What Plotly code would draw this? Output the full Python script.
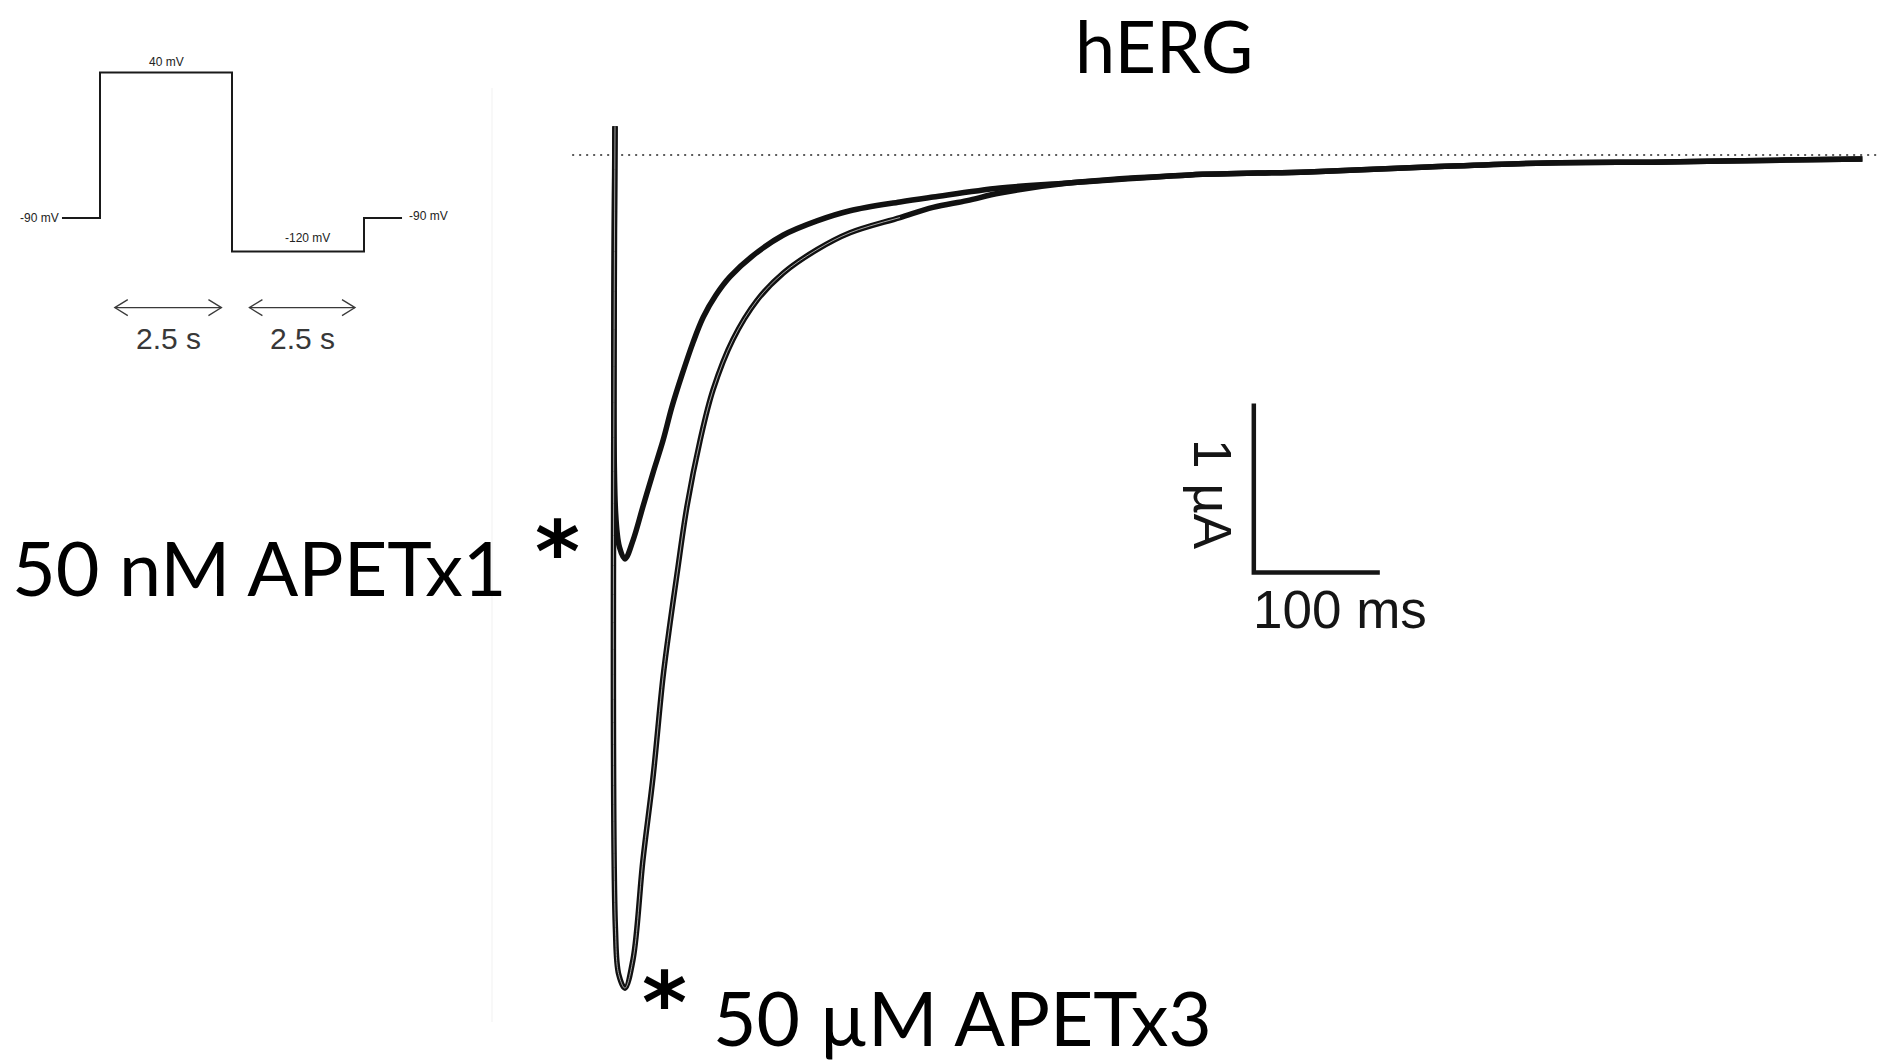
import plotly.graph_objects as go

W, H = 1886, 1063

# ---------------- hERG tail currents at -120 mV ----------------
# time after the step (ms) and current (µA)
TIME_APETX1_MS = [0, 0.5, 3.5, 7.9, 14.3, 22.2, 30.2, 38.1, 45.2, 53.2, 61.9, 70.0,
                  80.0, 91.3, 109.5, 133.3, 160.3, 186.5, 226.2, 252.4, 305.6, 360,
                  456, 550, 645, 740, 834, 929, 990]
CURRENT_APETX1_UA = [0.17, -2.12, -2.32, -2.39, -2.28, -2.08, -1.88, -1.69, -1.49,
                     -1.30, -1.11, -0.96, -0.83, -0.72, -0.595, -0.475, -0.39, -0.33,
                     -0.278, -0.249, -0.195, -0.166, -0.118, -0.10, -0.071, -0.047,
                     -0.041, -0.030, -0.024]

TIME_APETX3_MS = [0, 0.3, 3.0, 7.9, 14.3, 22.2, 30.2, 38.1, 43.7, 49.2, 57.1, 67.5,
                  77.8, 93.7, 112.7, 133.3, 160.3, 186.5, 226.2, 252.4, 279.4, 305.6,
                  360, 456, 550, 645, 740, 834, 929, 990]
CURRENT_APETX3_UA = [0.17, -4.57, -4.85, -4.93, -4.76, -4.17, -3.68, -3.09, -2.77,
                     -2.48, -2.08, -1.69, -1.39, -1.09, -0.86, -0.70, -0.56, -0.46,
                     -0.37, -0.31, -0.27, -0.225, -0.166, -0.118, -0.10, -0.071,
                     -0.047, -0.041, -0.030, -0.024]

BASELINE_T_MS = [-34, 1002]
BASELINE_UA = [0, 0]

# scale bar: 100 ms x 1 µA, corner at (SCALE_T0_MS, SCALE_I0_UA)
SCALE_T_MS = 100
SCALE_I_UA = 1
SCALE_T0_MS = 507
SCALE_I0_UA = -2.47

# ---------------- voltage protocol ----------------
PROTOCOL_T_S = [-0.72, 0, 0, 2.5, 2.5, 5.0, 5.0, 5.72]
PROTOCOL_MV = [-90, -90, 40, 40, -120, -120, -90, -90]
STEP_LABELS = ["-90 mV", "40 mV", "-120 mV", "-90 mV"]
DURATION_SPANS_S = [(0.28, 2.30), (2.83, 4.83)]
DURATION_LABEL = "2.5 s"
ARROW_MV = -170

# ---------------- axis geometry ----------------
T0_PX, PX_PER_MS = 615, 1.26          # main trace axes
I0_PX, PX_PER_UA = 155, 169
P0_PX, PX_PER_S = 100, 52.8           # protocol axes
V90_PX, PX_PER_MV = 218, 1.12

x_range = [-T0_PX / PX_PER_MS, (W - T0_PX) / PX_PER_MS]
y_range = [(I0_PX - H) / PX_PER_UA, I0_PX / PX_PER_UA]
x2_range = [-P0_PX / PX_PER_S, (W - P0_PX) / PX_PER_S]
y2_range = [-90 - (H - V90_PX) / PX_PER_MV, -90 + V90_PX / PX_PER_MV]


def px(x):
    return x / W


def py(y):
    return 1 - y / H


BIG_FONT = "Lato, 'Open Sans', sans-serif"
ARIAL = "'Liberation Sans', Arial, sans-serif"
STAR_FONT = dict(family="'DejaVu Sans', sans-serif", size=86, color="#000", weight="bold")

fig = go.Figure()

# zero-current reference (dotted)
fig.add_trace(go.Scatter(
    x=BASELINE_T_MS, y=BASELINE_UA, mode="lines",
    line=dict(color="#5c5c5c", width=2, dash="2px,5px"), hoverinfo="skip"))

# tail current traces
trace_line = dict(color="#111111", shape="spline", smoothing=1.0)
fig.add_trace(go.Scatter(
    x=TIME_APETX1_MS, y=CURRENT_APETX1_UA, mode="lines",
    line=dict(width=5.5, **trace_line), hoverinfo="skip"))
fig.add_trace(go.Scatter(
    x=TIME_APETX3_MS, y=CURRENT_APETX3_UA, mode="lines",
    line=dict(width=5.5, **trace_line), hoverinfo="skip"))

# overlaid sweeps leave a thin pale seam inside the APETx3 trace
seam = [(t, i) for t, i in zip(TIME_APETX3_MS, CURRENT_APETX3_UA) if t <= 230]
fig.add_trace(go.Scatter(
    x=[s[0] for s in seam], y=[s[1] for s in seam], mode="lines",
    line=dict(color="rgba(180,180,180,0.9)", width=1, shape="spline", smoothing=1.0),
    hoverinfo="skip"))

# scale bar
fig.add_trace(go.Scatter(
    x=[SCALE_T0_MS, SCALE_T0_MS, SCALE_T0_MS + SCALE_T_MS],
    y=[SCALE_I0_UA + SCALE_I_UA, SCALE_I0_UA, SCALE_I0_UA],
    mode="lines", line=dict(color="#151515", width=4.5), hoverinfo="skip"))

# voltage protocol
fig.add_trace(go.Scatter(
    x=PROTOCOL_T_S, y=PROTOCOL_MV, mode="lines", xaxis="x2", yaxis="y2",
    line=dict(color="#1a1a1a", width=2), hoverinfo="skip"))

# double-headed duration arrows with open chevron heads
head_dt = 13 / PX_PER_S
head_dv = 8 / PX_PER_MV
ax, ay = [], []
for t_start, t_end in DURATION_SPANS_S:
    ax += [t_start, t_end, None,
           t_start + head_dt, t_start, t_start + head_dt, None,
           t_end - head_dt, t_end, t_end - head_dt, None]
    ay += [ARROW_MV, ARROW_MV, None,
           ARROW_MV + head_dv, ARROW_MV, ARROW_MV - head_dv, None,
           ARROW_MV + head_dv, ARROW_MV, ARROW_MV - head_dv, None]
fig.add_trace(go.Scatter(
    x=ax, y=ay, mode="lines", xaxis="x2", yaxis="y2",
    line=dict(color="#3a3a3a", width=1.3), hoverinfo="skip"))

annotations = []

# protocol level labels
small = dict(family=ARIAL, size=12, color="#222222")
annotations += [
    dict(x=PROTOCOL_T_S[0], y=PROTOCOL_MV[0], xref="x2", yref="y2", text=STEP_LABELS[0],
         xanchor="right", yanchor="middle", xshift=-1, font=small, showarrow=False),
    dict(x=(PROTOCOL_T_S[2] + PROTOCOL_T_S[3]) / 2, y=PROTOCOL_MV[2], xref="x2", yref="y2",
         text=STEP_LABELS[1], xanchor="center", yanchor="bottom", yshift=1,
         font=small, showarrow=False),
    dict(x=(PROTOCOL_T_S[4] + PROTOCOL_T_S[5]) / 2 + 0.18, y=PROTOCOL_MV[4], xref="x2",
         yref="y2", text=STEP_LABELS[2], xanchor="center", yanchor="bottom", yshift=5,
         font=small, showarrow=False),
    dict(x=PROTOCOL_T_S[-1], y=PROTOCOL_MV[-1], xref="x2", yref="y2", text=STEP_LABELS[3],
         xanchor="left", yanchor="middle", xshift=5, yshift=2, font=small, showarrow=False),
]
for t_start, t_end in DURATION_SPANS_S:
    annotations.append(dict(
        x=(t_start + t_end) / 2, y=ARROW_MV, xref="x2", yref="y2", text=DURATION_LABEL,
        xanchor="center", yanchor="top", yshift=-12,
        font=dict(family=ARIAL, size=30, color="#383838"), showarrow=False))

# scale bar labels
annotations += [
    dict(x=SCALE_T0_MS, y=SCALE_I0_UA + SCALE_I_UA / 2, xref="x", yref="y",
         text="1 µA", textangle=90, xanchor="center", yanchor="middle",
         xshift=-42, yshift=-7, font=dict(family=ARIAL, size=53, color="#151515"),
         showarrow=False),
    dict(x=SCALE_T0_MS, y=SCALE_I0_UA, xref="x", yref="y", text="100 ms",
         xanchor="left", yanchor="top", xshift=-3, yshift=-6,
         font=dict(family=ARIAL, size=53, color="#151515"), showarrow=False),
]

# title and compound labels
annotations += [
    dict(x=px(1164), y=py(45), xref="paper", yref="paper", text="hERG",
         xanchor="center", yanchor="middle", borderpad=0,
         font=dict(family=BIG_FONT, size=72, color="#000"), showarrow=False),
    dict(x=px(11), y=py(566), xref="paper", yref="paper", text="50 nM APETx1",
         xanchor="left", yanchor="middle", borderpad=0,
         font=dict(family=BIG_FONT, size=75.5, color="#000"), showarrow=False),
    dict(x=px(712), y=py(1017), xref="paper", yref="paper", text="50 µM APETx3",
         xanchor="left", yanchor="middle", borderpad=0,
         font=dict(family=BIG_FONT, size=75, color="#000"), showarrow=False),
    dict(x=px(557), y=py(552), xref="paper", yref="paper", text="*",
         xanchor="center", yanchor="middle", borderpad=0,
         font=STAR_FONT, showarrow=False),
    dict(x=px(664), y=py(1003), xref="paper", yref="paper", text="*",
         xanchor="center", yanchor="middle", borderpad=0,
         font=STAR_FONT, showarrow=False),
]

hidden = dict(visible=False, showgrid=False, zeroline=False, fixedrange=True)
fig.update_layout(
    width=W, height=H, autosize=False,
    margin=dict(l=0, r=0, t=0, b=0, pad=0),
    paper_bgcolor="#ffffff", plot_bgcolor="rgba(0,0,0,0)",
    showlegend=False, hovermode=False,
    xaxis=dict(range=x_range, domain=[0, 1], **hidden),
    yaxis=dict(range=y_range, domain=[0, 1], **hidden),
    xaxis2=dict(range=x2_range, domain=[0, 1], overlaying="x", anchor="y2", **hidden),
    yaxis2=dict(range=y2_range, domain=[0, 1], overlaying="y", anchor="x2", **hidden),
    annotations=annotations,
    shapes=[dict(type="line", xref="paper", yref="paper",
                 x0=px(492), x1=px(492), y0=py(88), y1=py(1022),
                 line=dict(color="#f1f1f1", width=1), layer="below")],
)

fig.write_html(
    "out.html",
    config={"displayModeBar": False, "staticPlot": True},
    post_script="document.body.style.margin='0';document.body.style.overflow='hidden';",
)
